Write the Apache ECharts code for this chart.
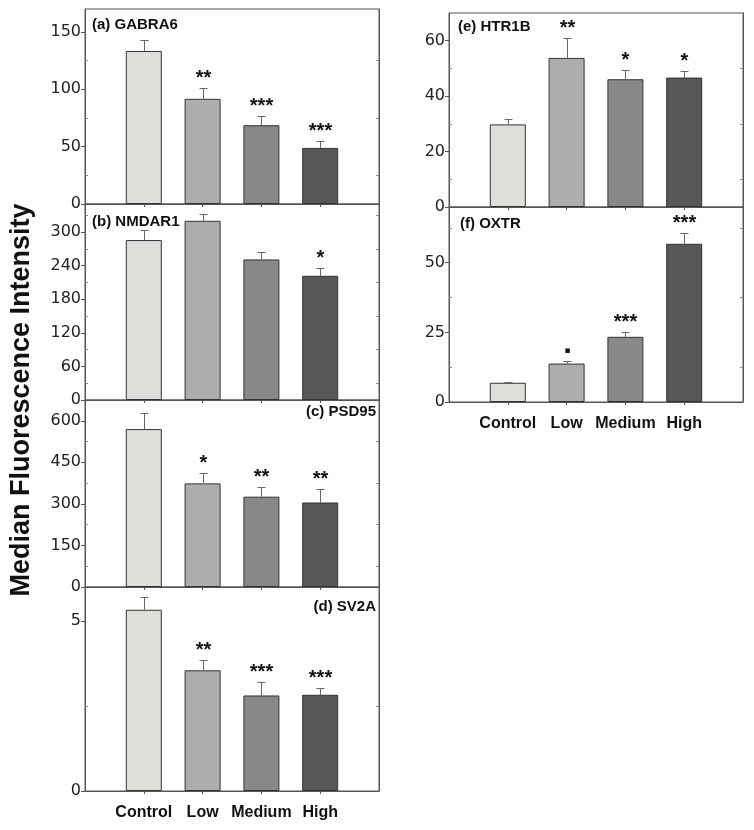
<!DOCTYPE html>
<html><head><meta charset="utf-8">
<script src="https://cdn.jsdelivr.net/npm/echarts@6/dist/echarts.min.js"></script>
<style>html,body{margin:0;padding:0;background:#fff}#chart{width:754px;height:830px}</style>
</head><body><div id="chart"></div>
<script>
const categories = ['Control', 'Low', 'Medium', 'High'];
const barColors = ['#dfdfdb', '#adadad', '#888888', '#575757'];

const gabra6Mean = [133.4, 91.7, 68.7, 48.9];
const gabra6Sem  = [9.3, 9.1, 7.9, 5.6];
const gabra6Sig  = ['', '**', '***', '***'];
const gabra6Ticks = [0, 50, 100, 150];
const gabra6Minor = [25, 75, 125];

const nmdar1Mean = [285.6, 320, 251, 221.8];
const nmdar1Sem  = [18, 12, 13, 14];
const nmdar1Sig  = ['', '', '', '*'];
const nmdar1Ticks = [0, 60, 120, 180, 240, 300];
const nmdar1Minor = [30, 90, 150, 210, 270, 330];

const psd95Mean = [570, 374, 326, 305];
const psd95Sem  = [59, 39, 34, 47];
const psd95Sig  = ['', '*', '**', '**'];
const psd95Ticks = [0, 150, 300, 450, 600];
const psd95Minor = [75, 225, 375, 525];

const sv2aMean = [5.33, 3.55, 2.81, 2.83];
const sv2aSem  = [0.39, 0.31, 0.41, 0.19];
const sv2aSig  = ['', '**', '***', '***'];
const sv2aTicks = [0, 5];
const sv2aMinor = [2.5];

const htr1bMean = [29.8, 53.8, 46.1, 46.7];
const htr1bSem  = [1.9, 7.2, 3.4, 2.5];
const htr1bSig  = ['', '**', '*', '*'];
const htr1bTicks = [0, 20, 40, 60];
const htr1bMinor = [10, 30, 50];

const oxtrMean = [6.9, 13.8, 23.4, 56.8];
const oxtrSem  = [0.4, 0.8, 1.6, 3.7];
const oxtrSig  = ['', '▪', '***', '***'];
const oxtrTicks = [0, 25, 50];
const oxtrMinor = [12.5, 37.5, 62.5];

const yTitle = 'Median Fluorescence Intensity';

const panels = [
  {label: '(a) GABRA6', mean: gabra6Mean, sem: gabra6Sem, sig: gabra6Sig, ticks: gabra6Ticks, minor: gabra6Minor, max: 170, interval: 50,
   grid: {left: 85, top: 9, width: 294, height: 195}, showX: false, lab: {x: 92, y: 25, align: 'left'}},
  {label: '(b) NMDAR1', mean: nmdar1Mean, sem: nmdar1Sem, sig: nmdar1Sig, ticks: nmdar1Ticks, minor: nmdar1Minor, max: 350, interval: 60,
   grid: {left: 85, top: 204, width: 294, height: 196}, showX: false, lab: {x: 92, y: 222, align: 'left'}},
  {label: '(c) PSD95', mean: psd95Mean, sem: psd95Sem, sig: psd95Sig, ticks: psd95Ticks, minor: psd95Minor, max: 675, interval: 150,
   grid: {left: 85, top: 400, width: 294, height: 187}, showX: false, lab: {x: 376, y: 412, align: 'right'}},
  {label: '(d) SV2A', mean: sv2aMean, sem: sv2aSem, sig: sv2aSig, ticks: sv2aTicks, minor: sv2aMinor, max: 6, interval: 5,
   grid: {left: 85, top: 587, width: 294, height: 204}, showX: true, lab: {x: 376, y: 607, align: 'right'}},
  {label: '(e) HTR1B', mean: htr1bMean, sem: htr1bSem, sig: htr1bSig, ticks: htr1bTicks, minor: htr1bMinor, max: 70, interval: 20,
   grid: {left: 449, top: 13, width: 294, height: 194}, showX: false, lab: {x: 458, y: 27, align: 'left'}},
  {label: '(f) OXTR', mean: oxtrMean, sem: oxtrSem, sig: oxtrSig, ticks: oxtrTicks, minor: oxtrMinor, max: 70, interval: 25,
   grid: {left: 449, top: 207, width: 294, height: 195}, showX: true, lab: {x: 460, y: 224, align: 'left'}}
];

const axisCats = [''].concat(categories, ['']);
const lineColor = '#555';
const option = {animation: false, backgroundColor: '#fff', grid: [], xAxis: [], yAxis: [], series: [], graphic: []};

panels.forEach((p, i) => {
  option.grid.push(Object.assign({show: true, borderColor: lineColor, borderWidth: 1, backgroundColor: 'transparent'}, p.grid));
  option.xAxis.push({
    type: 'category', gridIndex: i, data: axisCats, boundaryGap: false,
    axisLine: {lineStyle: {color: lineColor, width: 1}},
    axisTick: {show: true, length: 3, interval: (idx) => idx > 0 && idx < axisCats.length - 1, lineStyle: {color: lineColor}},
    axisLabel: {show: p.showX, interval: 0, margin: 14, fontFamily: 'Liberation Sans', fontWeight: 'bold', fontSize: 16, color: '#111'},
    splitLine: {show: false}
  });
  const base = {type: 'value', gridIndex: i, min: 0, max: p.max, interval: p.interval, splitLine: {show: false}};
  option.yAxis.push(Object.assign({}, base, {
    position: 'left',
    axisLine: {show: true, lineStyle: {color: lineColor, width: 1}},
    axisTick: {show: true, length: 4, customValues: p.ticks, lineStyle: {color: lineColor}},
    axisLabel: {customValues: p.ticks, margin: 4, fontFamily: 'DejaVu Sans', fontSize: 16, color: '#222'}
  }));
  option.yAxis.push(Object.assign({}, base, {
    position: 'left',
    axisLine: {show: false},
    axisTick: {show: true, inside: true, length: 3, customValues: p.minor, lineStyle: {color: '#888'}},
    axisLabel: {show: false}
  }));
  option.yAxis.push(Object.assign({}, base, {
    position: 'right',
    axisLine: {show: true, lineStyle: {color: lineColor, width: 1}},
    axisTick: {show: true, inside: true, length: 3, customValues: p.minor, lineStyle: {color: '#888'}},
    axisLabel: {show: false}
  }));
  option.series.push({
    type: 'bar', xAxisIndex: i, yAxisIndex: i * 3, barWidth: 36,
    data: categories.map((c, k) => ({value: [c, p.mean[k]], itemStyle: {color: barColors[k], borderColor: '#333', borderWidth: 1}})),
    z: 2
  });
  option.series.push({
    type: 'custom', xAxisIndex: i, yAxisIndex: i * 3, z: 3,
    data: categories.map((c, k) => [c, p.mean[k], p.mean[k] + p.sem[k]]),
    renderItem: (params, api) => {
      const xi = api.value(0), m = api.value(1), t = api.value(2);
      const p0 = api.coord([xi, m]), p1 = api.coord([xi, t]);
      const cx = Math.round(p0[0]) + 0.5, ty = Math.round(p1[1]) + 0.5;
      const children = [
        {type: 'line', shape: {x1: cx, y1: p0[1], x2: cx, y2: ty}, style: {stroke: '#666', lineWidth: 1}},
        {type: 'line', shape: {x1: cx - 4, y1: ty, x2: cx + 4, y2: ty}, style: {stroke: '#666', lineWidth: 1}}
      ];
      const s = p.sig[params.dataIndex];
      if (s) {
        const small = s === '▪';
        children.push({type: 'text', style: {text: s, x: cx, y: ty - (small ? 11 : 10),
          align: 'center', verticalAlign: 'middle', textAlign: 'center', textVerticalAlign: 'middle',
          font: small ? '9px "DejaVu Sans"' : 'bold 20px "Liberation Sans"', fill: '#111'}});
      }
      return {type: 'group', children};
    }
  });
  option.graphic.push({type: 'text', x: p.lab.x, y: p.lab.y, z: 10,
    style: {text: p.label, font: 'bold 15px "Liberation Sans"', fill: '#111',
      align: p.lab.align, verticalAlign: 'middle', textAlign: p.lab.align, textVerticalAlign: 'middle'}});
});

option.graphic.push({type: 'text', x: 22, y: 400, rotation: Math.PI / 2, z: 10,
  style: {text: yTitle, font: 'bold 27px "Liberation Sans"', fill: '#111',
    align: 'center', verticalAlign: 'middle', textAlign: 'center', textVerticalAlign: 'middle'}});

const chart = echarts.init(document.getElementById('chart'), null, {renderer: 'canvas'});
chart.setOption(option);
</script>
</body></html>
